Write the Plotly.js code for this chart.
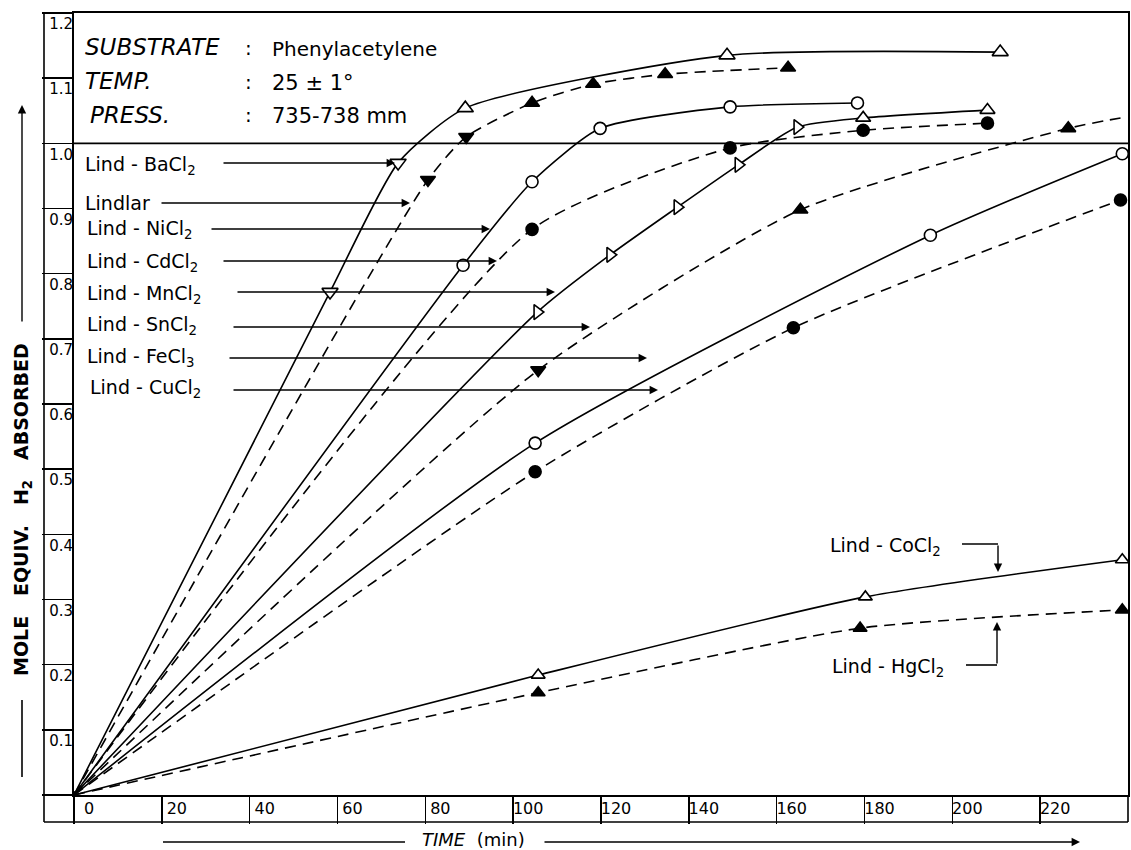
<!DOCTYPE html>
<html>
<head>
<meta charset="utf-8">
<script src="https://cdn.plot.ly/plotly-3.0.1.min.js"></script>
<style>html,body{margin:0;padding:0;background:#fff;}#chart{width:1131px;height:850px;}</style>
</head>
<body>
<div id="chart"></div>
<script>
// ---------------- DATA ----------------
const baX = [0, 58.3, 73.8, 89.1, 148.7, 210.9];
const baY = [0, 0.772, 0.970, 1.054, 1.135, 1.140];
const lindlarX = [0, 80.6, 89.3, 104.3, 118.2, 134.6, 162.6];
const lindlarY = [0, 0.944, 1.010, 1.062, 1.091, 1.106, 1.116];
const niX = [0, 88.6, 104.3, 119.8, 149.4, 178.4];
const niY = [0, 0.813, 0.941, 1.023, 1.056, 1.062];
const cdX = [0, 104.3, 149.4, 179.7, 208.0];
const cdY = [0, 0.868, 0.993, 1.020, 1.031];
const mnX = [0, 105.5, 122.1, 137.4, 151.3, 164.7, 179.7, 208.0];
const mnY = [0, 0.741, 0.829, 0.902, 0.967, 1.025, 1.039, 1.051];
const snX = [0, 105.7, 165.4, 226.4, 238.3];
const snY = [0, 0.652, 0.898, 1.023, 1.039];
const feX = [0, 105.0, 195.0, 238.7];
const feY = [0, 0.540, 0.859, 0.984];
const cuX = [0, 105.0, 163.8, 238.3];
const cuY = [0, 0.496, 0.717, 0.913];
const coX = [0, 105.7, 180.2, 238.7];
const coY = [0, 0.184, 0.304, 0.361];
const hgX = [0, 105.7, 179.0, 238.7];
const hgY = [0, 0.157, 0.256, 0.284];

const xTicks = [0, 20, 40, 60, 80, 100, 120, 140, 160, 180, 200, 220];
const yTicks = [0, 0.1, 0.2, 0.3, 0.4, 0.5, 0.6, 0.7, 0.8, 0.9, 1.0, 1.1, 1.2];
const yTickLabels = ['', '0.1', '0.2', '0.3', '0.4', '0.5', '0.6', '0.7', '0.8', '0.9', '1.0', '1.1', '1.2'];

// ---------------- STYLES ----------------
const DASH = '11px,7px';
const series = [
  {name:'Lind-BaCl2', x:baX, y:baY, dash:'solid', open:true,
   sym:['circle','triangle-down','triangle-down','triangle-up','triangle-up','triangle-up'], size:14},
  {name:'Lindlar', x:lindlarX, y:lindlarY, dash:DASH, open:false,
   sym:['circle','triangle-down','triangle-down','triangle-up','triangle-up','triangle-up','triangle-up'], size:13},
  {name:'Lind-NiCl2', x:niX, y:niY, dash:'solid', open:true, sym:'circle', size:12},
  {name:'Lind-CdCl2', x:cdX, y:cdY, dash:DASH, open:false, sym:'circle', size:12},
  {name:'Lind-MnCl2', x:mnX, y:mnY, dash:'solid', open:true,
   sym:['circle','triangle-right','triangle-right','triangle-right','triangle-right','triangle-right','triangle-up','triangle-up'], size:13},
  {name:'Lind-SnCl2', x:snX, y:snY, dash:DASH, open:false,
   sym:['circle','triangle-down','triangle-up','triangle-up','circle'], size:13, noEnd:true},
  {name:'Lind-FeCl3', x:feX, y:feY, dash:'solid', open:true, sym:'circle', size:12},
  {name:'Lind-CuCl2', x:cuX, y:cuY, dash:DASH, open:false, sym:'circle', size:12},
  {name:'Lind-CoCl2', x:coX, y:coY, dash:'solid', open:true, sym:'triangle-up', size:12},
  {name:'Lind-HgCl2', x:hgX, y:hgY, dash:DASH, open:false, sym:'triangle-up', size:12}
];

const traces = series.map(s => {
  const n = s.x.length;
  const sizes = s.x.map((v, i) => i === 0 ? 5 : ((s.noEnd && i === n - 1) ? 0 : s.size));
  const colors = s.x.map((v, i) => i === 0 ? '#000' : (s.open ? '#fff' : '#000'));
  return {
    type:'scatter', mode:'lines+markers', name:s.name, x:s.x, y:s.y,
    line:{color:'#000', width:1.6, dash:s.dash, shape:'spline', smoothing:0.6},
    marker:{symbol:s.sym, size:sizes, color:colors, opacity:1, line:{color:'#000', width:1.6}},
    hoverinfo:'skip', showlegend:false
  };
});
// empty trace to host the labelling axes
traces.push({type:'scatter', x:[], y:[], xaxis:'x2', yaxis:'y2', showlegend:false, hoverinfo:'skip'});

// pixel -> paper helpers
const L = 74, R = 3, T = 13, B = 55, W = 1131, H = 850;
const PW = W - L - R, PH = H - T - B;
const px = v => (v - L) / PW;
const py = v => (H - B - v) / PH;

const FONT = 'DejaVu Sans';
const ann = [];
function txt(text, x, y, size, opts) {
  ann.push(Object.assign({text:text, x:px(x), y:py(y), xref:'paper', yref:'paper',
    xanchor:'left', yanchor:'middle', showarrow:false,
    font:{family:FONT, size:size, color:'black'}}, opts || {}));
}
function arrow(tipX, tipY, tailX, tailY) {
  ann.push({text:'', x:px(tipX), y:py(tipY), xref:'paper', yref:'paper',
    ax:tailX - tipX, ay:tailY - tipY, axref:'pixel', ayref:'pixel',
    showarrow:true, arrowhead:2, arrowsize:1.2, arrowwidth:1.4, arrowcolor:'black', standoff:0, startstandoff:0});
}

// header block
txt('<i>SUBSTRATE</i>', 83, 47, 23);
txt('<i>TEMP.</i>', 83, 81, 23);
txt('<i>PRESS.</i>', 88, 115, 23);
txt(':', 243, 48, 20); txt(':', 243, 82, 20); txt(':', 243, 115, 20);
txt('Phenylacetylene', 270, 49, 20);
txt('25 \u00B1 1\u00B0', 270, 83, 21);
txt('735-738 mm', 270, 116, 21);

// catalyst labels with arrows
const labelRows = [
  ['Lind - BaCl<sub>2</sub>', 83, 165, 222, 395, 163],
  ['Lindlar', 83, 203, 160, 410, 203],
  ['Lind - NiCl<sub>2</sub>', 85, 230, 210, 490, 229],
  ['Lind - CdCl<sub>2</sub>', 85, 262, 222, 497, 261],
  ['Lind - MnCl<sub>2</sub>', 85, 294, 236, 555, 292],
  ['Lind - SnCl<sub>2</sub>', 85, 326, 232, 590, 327],
  ['Lind - FeCl<sub>3</sub>', 85, 357, 228, 647, 358],
  ['Lind - CuCl<sub>2</sub>', 88, 388, 232, 658, 390]
];
labelRows.forEach(r => { txt(r[0], r[1], r[2], 19); arrow(r[4], r[5], r[3], r[5]); });

txt('Lind - CoCl<sub>2</sub>', 828, 546, 19);
arrow(998, 572, 998, 544);
txt('Lind - HgCl<sub>2</sub>', 830, 667, 19);
arrow(997, 622, 997, 665);

// axis titles
txt('MOLE\u00A0\u00A0\u00A0EQUIV.\u00A0\u00A0\u00A0H<sub>2</sub>\u00A0\u00A0\u00A0ABSORBED', 22, 510, 19,
    {xanchor:'center', textangle:-90, font:{family:FONT, size:19, color:'black', weight:'bold'}});
arrow(22, 105, 22, 323);
txt('<i>TIME</i>\u00A0\u00A0(min)', 473, 839, 18, {xanchor:'center'});
arrow(1080, 842, 543, 842);

const lineShape = (x0, y0, x1, y1) => ({type:'line', xref:'paper', yref:'paper',
  x0:px(x0), y0:py(y0), x1:px(x1), y1:py(y1), line:{color:'black', width:1.6}});

const shapes = [
  // line at 1.0 separating the header block
  {type:'line', xref:'paper', yref:'y', x0:0, x1:1, y0:1.0, y1:1.0, line:{color:'black', width:1.6}},
  // label strips
  lineShape(44, 13, 44, 822),
  lineShape(44, 822, 1128, 822),
  lineShape(1128, 795, 1128, 822),
  // title side lines
  lineShape(22, 700, 22, 777),
  lineShape(163, 842, 405, 842),
  // connectors of the bent arrows
  lineShape(962, 544, 998, 544),
  lineShape(966, 665, 997, 665)
];

const layout = {
  width:W, height:H,
  margin:{l:L, r:R, t:T, b:B, pad:0},
  paper_bgcolor:'white', plot_bgcolor:'white',
  showlegend:false,
  xaxis:{range:[0, 240], tickvals:xTicks, ticks:'outside', ticklen:27, tickwidth:1.4, tickcolor:'black',
         showticklabels:false, showline:true, linecolor:'black', linewidth:1.6, mirror:true,
         showgrid:false, zeroline:false, fixedrange:true},
  yaxis:{range:[0, 1.2], tickvals:yTicks, ticks:'outside', ticklen:30, tickwidth:1.4, tickcolor:'black',
         showticklabels:false, showline:true, linecolor:'black', linewidth:1.6, mirror:true,
         showgrid:false, zeroline:false, fixedrange:true},
  xaxis2:{range:[0, 240], overlaying:'x', anchor:'y2', side:'bottom', tickvals:xTicks, ticktext:xTicks.map(String),
          ticks:'', showline:false, showgrid:false, zeroline:false, ticklabelshift:15, ticklabelstandoff:2,
          tickfont:{family:FONT, size:16, color:'black'}, fixedrange:true},
  yaxis2:{range:[0, 1.2], overlaying:'y', anchor:'x2', side:'left', tickvals:yTicks, ticktext:yTickLabels,
          ticks:'', showline:false, showgrid:false, zeroline:false, ticklabelshift:11, ticklabelstandoff:0,
          tickfont:{family:FONT, size:15, color:'black'}, fixedrange:true},
  annotations:ann,
  shapes:shapes
};

Plotly.newPlot('chart', traces, layout, {staticPlot:true, displayModeBar:false});
</script>
</body>
</html>
